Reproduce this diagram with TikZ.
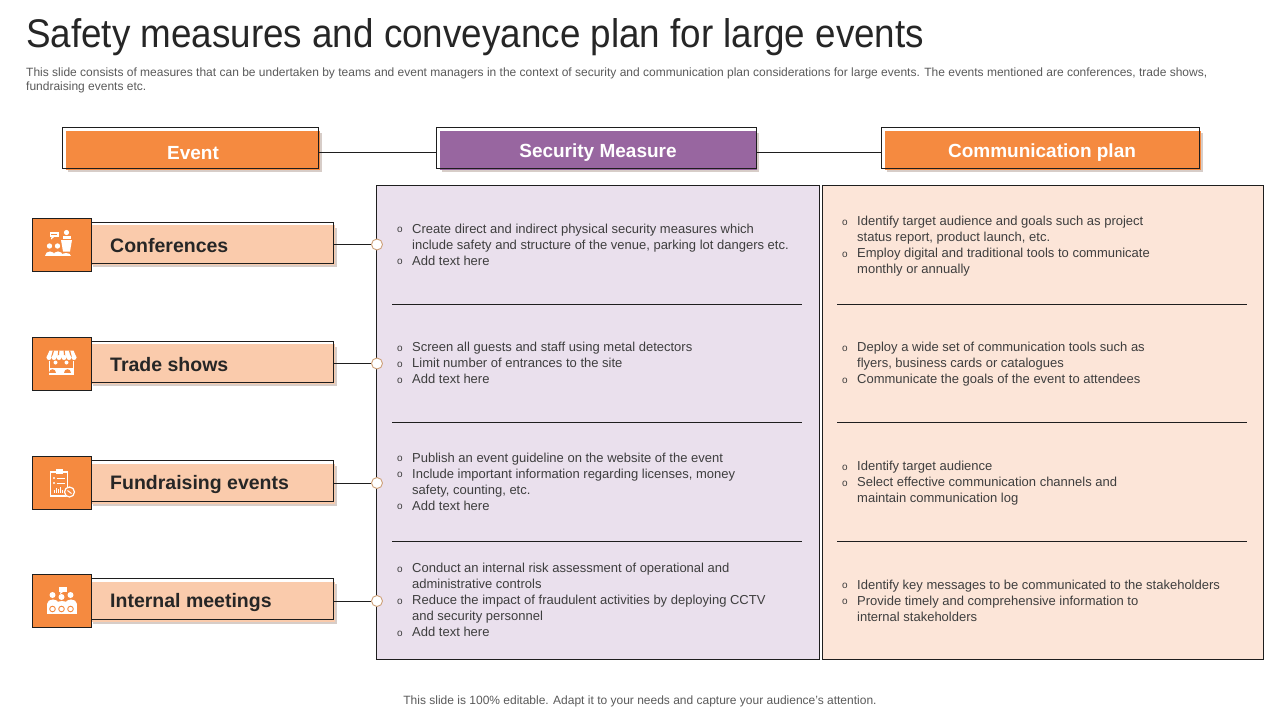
\documentclass[tikz,border=0pt]{standalone}
\usepackage{fontspec}
\setmainfont{Liberation Sans}
\definecolor{orangec}{RGB}{245,138,64}
\definecolor{purplec}{RGB}{152,102,160}
\definecolor{peachc}{RGB}{250,203,172}
\definecolor{lavc}{RGB}{234,224,237}
\definecolor{commc}{RGB}{252,229,216}
\definecolor{bodyc}{RGB}{62,62,62}
\definecolor{titlec}{RGB}{38,38,38}
\definecolor{subc}{RGB}{90,90,90}
\definecolor{edgec}{RGB}{30,30,30}
\definecolor{shadc}{RGB}{215,205,200}
\definecolor{ringc}{RGB}{205,160,120}
\newcommand\bi{\makebox[15pt][l]{\raisebox{0.6pt}{\fontsize{10}{16}\selectfont o}}}
\newcommand\bc{\hspace*{15pt}}
\begin{document}
\begin{tikzpicture}[x=1pt,y=-1pt,
  edge/.style={draw=edgec, line width=0.9pt},
  hbox/.style={draw=edgec, line width=0.9pt, minimum height=41pt, inner sep=0pt},
  hdrtxt/.style={text=white, font=\fontsize{19}{22}\selectfont\bfseries, inner sep=0pt},
  lbltxt/.style={text=titlec, font=\fontsize{19.5}{22}\selectfont\bfseries, anchor=west, inner sep=0pt},
  lblbox/.style={draw=edgec, line width=0.9pt, minimum width=243pt, minimum height=41pt, inner sep=0pt},
  iconbox/.style={draw=edgec, line width=0.9pt, fill=orangec, minimum width=59pt, minimum height=53pt, inner sep=0pt},
  ring/.style={circle, draw=ringc, line width=0.9pt, fill=white, minimum size=11pt, inner sep=0pt},
  txt/.style={anchor=north west, align=left, inner sep=0pt, text=bodyc, font=\fontsize{13}{16}\selectfont},
  sep/.style={draw=edgec, line width=0.9pt},
  ico/.style={white, line width=1.3pt}
]
\useasboundingbox (0,0) rectangle (1280,720);
\fill[white] (0,0) rectangle (1280,720);

% title and subtitle
\node[anchor=base west, inner sep=0pt, text=titlec, font=\fontsize{40}{44}\selectfont] (title) at (26,47) {\scalebox{0.92}[1]{Safety measures and conveyance plan for large events}};
\node[anchor=north west, align=left, inner sep=0pt, text=subc, font=\fontsize{12}{14}\selectfont] (sub) at (26,67.5) {This slide consists of measures that can be undertaken by teams and event managers in the context of security and communication plan considerations for large events. The events mentioned are conferences, trade shows,\\ fundraising events etc.};

% header boxes
\fill[shadc] (68,133) rectangle (322,172);
\fill[orangec] (66,131) rectangle (320,170);
\node[hbox, minimum width=256pt] (hev) at (190,147.5) {};
\node[hdrtxt] (hevt) at (193,153) {Event};

\fill[shadc] (442,133) rectangle (759,172);
\fill[purplec] (440,131) rectangle (757,170);
\node[hbox, minimum width=320pt] (hsec) at (596,147.5) {};
\node[hdrtxt] (hsect) at (598,153) {Security Measure};

\fill[shadc] (887,133) rectangle (1203,172);
\fill[orangec] (885,131) rectangle (1201,170);
\node[hbox, minimum width=318pt] (hcom) at (1040,147.5) {};
\node[hdrtxt] (hcomt) at (1042,153) {Communication plan};

\draw[edge] (hev.east |- 0,152) -- (hsec.west |- 0,152);
\draw[edge] (hsec.east |- 0,152) -- (hcom.west |- 0,152);

% panels
\fill[lavc] (376,185) rectangle (819,659);
\draw[edge] (376,185) rectangle (819,659);
\fill[commc] (822,185) rectangle (1263,659);
\draw[edge] (822,185) rectangle (1263,659);
\foreach \yy in {304,422.5,541}{
  \draw[sep] (392,\yy) -- (802,\yy);
  \draw[sep] (837,\yy) -- (1247,\yy);
}

% rows
\foreach \yy/\nn/\tt in {244.5/1/Conferences, 363.5/2/Trade shows, 483/3/Fundraising events, 601/4/Internal meetings}{
  \fill[shadc] (93,\yy-17) rectangle (337,\yy+22.5);
  \fill[peachc] (91,\yy-19.5) rectangle (335,\yy+20.5);
  \node[lblbox] (l\nn) at (211.5,\yy-2) {};
  \node[iconbox] (i\nn) at (61.5,\yy) {};
  \node[lbltxt] (t\nn) at (110,\yy+1.5) {\tt};
  \node[ring] (c\nn) at (377,\yy) {};
  \draw[edge] (l\nn.east |- c\nn) -- (c\nn.west);
}

% icon 1: conference
\begin{scope}[shift={(61.5,244.5)}]
  \fill[white] (-12,-13) rectangle (-3,-7.5);
  \fill[white] (-10,-7.8) -- (-7,-7.8) -- (-10.5,-5) -- cycle;
  \draw[orangec, line width=0.6pt] (-10.5,-10.2) -- (-4.5,-10.2);
  \fill[white] (5,-12) circle (2.6);
  \fill[white] (1,-8.8) rectangle (9,-5.5);
  \fill[white] (-0.5,-4.5) -- (10.5,-4.5) -- (8.5,7) -- (1.5,7) -- cycle;
  \foreach \xx in {-12,-4}{
    \fill[white] (\xx,1.5) circle (2.7);
    \fill[white] (\xx-5,11) .. controls (\xx-5,5) and (\xx+5,5) .. (\xx+5,11) -- cycle;
  }
  \fill[white] (4,4) circle (2.7);
  \fill[white] (-1,11) .. controls (-1,7) and (9,7) .. (9,11) -- cycle;
\end{scope}

% icon 2: trade show stall
\begin{scope}[shift={(61.5,363.5)}]
  \fill[white] (-12,-13) -- (12,-13) -- (15,-6) -- (-15,-6) -- cycle;
  \foreach \xx in {-9,-3,3,9}{
    \draw[orangec, line width=1.2pt] (\xx*0.9,-13) -- (\xx*1.1,-6);
  }
  \foreach \xx in {-12.5,-7.5,-2.5,2.5,7.5,12.5}{
    \fill[white] (\xx,-6) circle (2.5);
  }
  \draw[ico] (-12,-3) -- (-12,11) -- (12,11) -- (12,-3);
  \fill[white] (-12,4) rectangle (12,11);
  \fill[orangec] (-9,1) circle (2.2);
  \fill[orangec] (-12.5,9) .. controls (-12.5,4) and (-5.5,4) .. (-5.5,9) -- cycle;
  \fill[orangec] (6,1) circle (2.2);
  \fill[orangec] (2.5,9) .. controls (2.5,4) and (9.5,4) .. (9.5,9) -- cycle;
  \fill[white] (-6,-1) circle (2);
  \fill[white] (5,-1) circle (2);
\end{scope}

% icon 3: fundraising clipboard
\begin{scope}[shift={(61.5,483)}]
  \draw[ico] (-11,-11) rectangle (6,13);
  \fill[white] (-6,-14) rectangle (1,-9);
  \foreach \yy in {-5,0}{
    \fill[white] (-7.5,\yy) circle (1.2);
    \draw[white, line width=1pt] (-5,\yy) -- (3,\yy);
  }
  \foreach \xx/\hh in {-8/3,-6/5,-4/4,-2/6,0/3}{
    \fill[white] (\xx,10) rectangle (\xx+1.2,10-\hh);
  }
  \fill[orangec] (8,9) circle (5.5);
  \draw[white, line width=1.2pt] (8,9) circle (5);
  \draw[white, line width=1pt] (6,7.5) -- (10,10.5);
\end{scope}

% icon 4: internal meeting
\begin{scope}[shift={(61.5,601)}]
  \fill[white] (-3,-14) rectangle (5,-9);
  \fill[white] (-1,-9.3) -- (2,-9.3) -- (-1.5,-7) -- cycle;
  \foreach \xx in {-9,9}{
    \fill[white] (\xx,-6) circle (3);
    \fill[white] (\xx-6,3) .. controls (\xx-6,-3) and (\xx+6,-3) .. (\xx+6,3) -- cycle;
  }
  \fill[white] (0,-4) circle (3);
  \fill[white] (-6,3) .. controls (-6,-1) and (6,-1) .. (6,3) -- cycle;
  \fill[white] (-15,3) rectangle (15,13);
  \foreach \xx in {-9,0,9}{
    \draw[orangec, line width=0.9pt] (\xx,8) circle (2.8);
  }
\end{scope}

% security measures text
\node[txt] (s1) at (397,223.8) {\bi Create direct and indirect physical security measures which\\
\bc include safety and structure of the venue,  parking lot dangers etc.\\
\bi Add text here};
\node[txt] (s2) at (397,342.2) {\bi Screen all guests and staff using metal detectors\\
\bi Limit number of entrances to the site\\
\bi Add text here};
\node[txt] (s3) at (397,452.8) {\bi Publish an event guideline on the website of the event\\
\bi Include important information regarding licenses, money\\
\bc safety, counting, etc.\\
\bi Add text here};
\node[txt] (s4) at (397,563.2) {\bi Conduct an internal risk assessment of operational and\\
\bc administrative controls\\
\bi Reduce the impact of fraudulent activities by deploying CCTV\\
\bc and security personnel\\
\bi Add text here};

% communication plan text
\node[txt] (m1) at (842,216.2) {\bi Identify target audience and goals such as project\\
\bc status report, product launch, etc.\\
\bi Employ digital and traditional tools to communicate\\
\bc monthly or annually};
\node[txt] (m2) at (842,342.2) {\bi Deploy a wide set of communication tools such as\\
\bc flyers, business cards or catalogues\\
\bi Communicate the goals of the event to attendees};
\node[txt] (m3) at (842,461.2) {\bi Identify target audience\\
\bi Select effective communication channels and\\
\bc maintain communication log};
\node[txt] (m4) at (842,579.8) {\bi Identify key messages to be communicated to the stakeholders\\
\bi Provide timely and comprehensive information to\\
\bc internal stakeholders};

% footer
\node[inner sep=0pt, text=subc, font=\fontsize{12}{14}\selectfont] (foot) at (640,701) {This slide is 100\% editable. Adapt it to your needs and capture your audience's attention.};
\end{tikzpicture}
\end{document}
